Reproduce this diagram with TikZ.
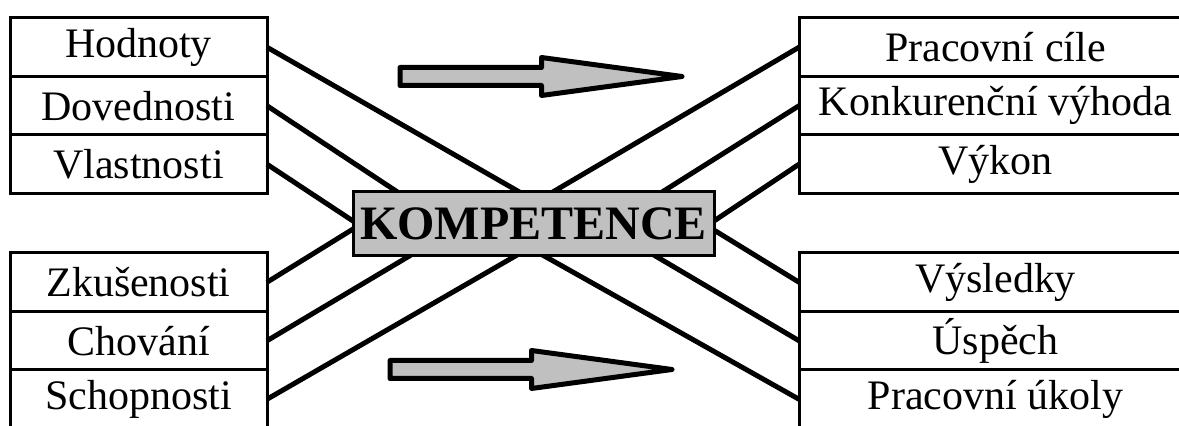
\documentclass[tikz,border=0pt]{standalone}
\usepackage{fontspec}
\setmainfont{Liberation Serif}
\usetikzlibrary{positioning,calc,backgrounds}
\definecolor{boxgray}{RGB}{192,192,192}

\begin{document}
\begin{tikzpicture}[
    x=0.5pt, y=-0.5pt,
    node distance=0pt,
    every node/.style={font=\fontsize{21}{25}\selectfont},
    row/.style={draw, line width=1.5pt, inner sep=0pt, outer sep=0pt, minimum width=128.5pt, minimum height=29.25pt},
    rrow/.style={row, minimum width=196.5pt},
    kbox/.style={draw, line width=1.5pt, fill=boxgray, inner sep=0pt, minimum width=180.5pt, minimum height=32pt, font=\fontsize{24}{28}\selectfont\bfseries},
    conn/.style={line width=2.5pt},
    bigarrow/.style={draw, line width=2.5pt, line join=round, fill=boxgray}
  ]
    \useasboundingbox (0,0) rectangle (1179,426);
    \clip (0,0) rectangle (1179,426);

    % left columns
    \node[row, anchor=north west] (hodnoty) at (10,18) {Hodnoty};
    \node[row, below=of hodnoty] (dovednosti) {Dovednosti};
    \node[row, below=of dovednosti] (vlastnosti) {Vlastnosti};

    \node[row, anchor=north west] (zkusenosti) at (10,253) {Zkušenosti};
    \node[row, below=of zkusenosti] (chovani) {Chování};
    \node[row, below=of chovani] (schopnosti) {Schopnosti};

    % right columns (cut off by the page edge, as in the sketch)
    \node[rrow, anchor=north west] (cile) at (799,18) {Pracovní cíle};
    \node[rrow, below=of cile] (vyhoda) {Konkurenční výhoda};
    \node[rrow, below=of vyhoda] (vykon) {Výkon};

    \node[rrow, anchor=north west] (vysledky) at (799,253) {Výsledky};
    \node[rrow, below=of vysledky] (uspech) {Úspěch};
    \node[rrow, below=of uspech] (ukoly) {Pracovní úkoly};

    \node[kbox] (komp) at (533.5,224) {KOMPETENCE};

    % where the lines meet the centre box
    \coordinate (t1) at ($(komp.north west)!0.12!(komp.north east)$);
    \coordinate (t2) at ($(komp.north west)!0.454!(komp.north east)$);
    \coordinate (t3) at ($(komp.north west)!0.56!(komp.north east)$);
    \coordinate (t4) at ($(komp.north west)!0.86!(komp.north east)$);
    \coordinate (b1) at ($(komp.south west)!0.152!(komp.south east)$);
    \coordinate (b2) at ($(komp.south west)!0.443!(komp.south east)$);
    \coordinate (b3) at ($(komp.south west)!0.537!(komp.south east)$);
    \coordinate (b4) at ($(komp.south west)!0.842!(komp.south east)$);
    \coordinate (w1) at ([yshift=2pt]komp.west);
    \coordinate (w2) at ([yshift=-3pt]komp.west);
    \coordinate (e1) at ([yshift=2pt]komp.east);
    \coordinate (e2) at ([yshift=-3.5pt]komp.east);

    \begin{scope}[on background layer]
      \draw[conn] (hodnoty.east) -- ($(hodnoty.east)!1.2!(t2)$);
      \draw[conn] (dovednosti.east) -- ($(dovednosti.east)!1.2!(t1)$);
      \draw[conn] (vlastnosti.east) -- ($(vlastnosti.east)!1.2!(w1)$);
      \draw[conn] (zkusenosti.east) -- ($(zkusenosti.east)!1.2!(w2)$);
      \draw[conn] (chovani.east) -- ($(chovani.east)!1.2!(b1)$);
      \draw[conn] (schopnosti.east) -- ($(schopnosti.east)!1.2!(b2)$);

      \draw[conn] (cile.west) -- ($(cile.west)!1.2!(t3)$);
      \draw[conn] (vyhoda.west) -- ($(vyhoda.west)!1.2!(t4)$);
      \draw[conn] (vykon.west) -- ($(vykon.west)!1.2!(e1)$);
      \draw[conn] (vysledky.west) -- ($(vysledky.west)!1.2!(e2)$);
      \draw[conn] (uspech.west) -- ($(uspech.west)!1.2!(b4)$);
      \draw[conn] (ukoly.west) -- ($(ukoly.west)!1.2!(b3)$);
    \end{scope}

    % the two grey arrows
    \foreach \ax/\ay in {400/76.5, 390/369.5}
      \draw[bigarrow] (\ax,\ay) ++(0,-9) -- ++(141.5,0) -- ++(0,-10) -- ++(140.5,19)
        -- ++(-140.5,19) -- ++(0,-10) -- ++(-141.5,0) -- cycle;
\end{tikzpicture}
\end{document}
